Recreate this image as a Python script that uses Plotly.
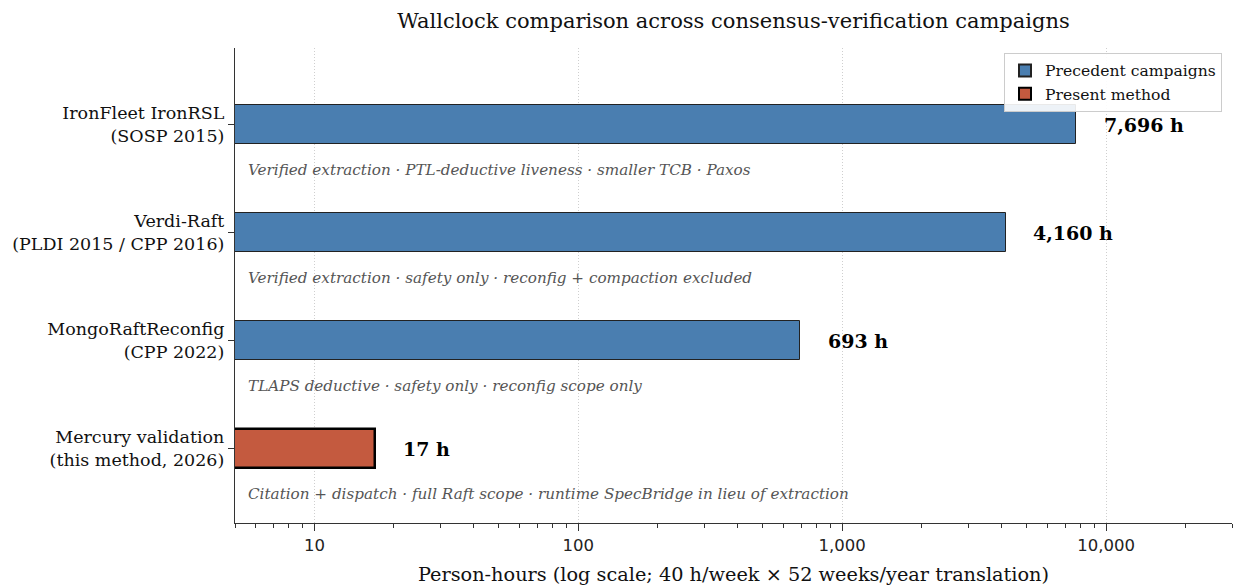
import plotly.graph_objects as go
import math

campaigns = ["IronFleet IronRSL<br>(SOSP 2015)",
             "Verdi-Raft<br>(PLDI 2015 / CPP 2016)",
             "MongoRaftReconfig<br>(CPP 2022)",
             "Mercury validation<br>(this method, 2026)"]
hours = [7696, 4160, 693, 17]
groups = ["Precedent campaigns", "Precedent campaigns", "Precedent campaigns", "Present method"]
notes = ["Verified extraction · PTL-deductive liveness · smaller TCB · Paxos",
         "Verified extraction · safety only · reconfig + compaction excluded",
         "TLAPS deductive · safety only · reconfig scope only",
         "Citation + dispatch · full Raft scope · runtime SpecBridge in lieu of extraction"]
x_ticks = [10, 100, 1000, 10000]
x_tick_labels = ["10", "100", "1,000", "10,000"]

BLUE = "#4a7eb0"
RED = "#c45a3f"
SERIF = "DejaVu Serif"

pos = list(range(len(campaigns)))
fig = go.Figure()

prec_idx = [i for i, g in enumerate(groups) if g == "Precedent campaigns"]
pres_idx = [i for i, g in enumerate(groups) if g == "Present method"]

fig.add_trace(go.Bar(
    x=[hours[i] for i in prec_idx], y=[pos[i] for i in prec_idx], orientation="h",
    width=0.36, name="Precedent campaigns",
    marker=dict(color=BLUE, line=dict(color="#222222", width=1)),
    hoverinfo="skip"))
fig.add_trace(go.Bar(
    x=[hours[i] for i in pres_idx], y=[pos[i] for i in pres_idx], orientation="h",
    width=0.36, name="Present method",
    marker=dict(color=RED, line=dict(color="#000000", width=2.5)),
    hoverinfo="skip"))

annotations = []
for i, (h, n) in enumerate(zip(hours, notes)):
    annotations.append(dict(
        x=math.log10(h * 1.25), y=pos[i], xref="x", yref="y",
        text=f"<b>{h:,} h</b>", showarrow=False, xanchor="left", yanchor="middle",
        font=dict(family=SERIF, size=19, color="#000000")))
    annotations.append(dict(
        x=math.log10(5.5), y=pos[i] + 0.42, xref="x", yref="y",
        text=f"<i>{n}</i>", showarrow=False, xanchor="left", yanchor="middle",
        font=dict(family=SERIF, size=15.2, color="#555555")))

minor_vals = []
for d in [1, 10, 100, 1000, 10000]:
    for m in range(2, 10):
        v = m * d
        if 5 <= v <= 30000:
            minor_vals.append(v)

fig.update_layout(
    width=1235, height=587,
    margin=dict(l=235, r=3, t=48, b=64),
    paper_bgcolor="white", plot_bgcolor="white",
    title=dict(text="Wallclock comparison across consensus-verification campaigns",
               x=(235 + 1232) / 2 / 1235, xanchor="center", y=1 - 21 / 587, yanchor="middle",
               font=dict(family=SERIF, size=21, color="#111111")),
    barmode="overlay",
    bargap=0,
    showlegend=True,
    legend=dict(x=0.990, y=0.99, xanchor="right", yanchor="top",
                bgcolor="rgba(255,255,255,0.9)", bordercolor="#cccccc", borderwidth=1,
                font=dict(family=SERIF, size=15.6, color="#111111"),
                itemsizing="constant", tracegroupgap=0),
    annotations=annotations,
    xaxis=dict(type="log", range=[math.log10(5), math.log10(30000)],
               tickvals=x_ticks, ticktext=x_tick_labels,
               tickfont=dict(family="DejaVu Sans", size=16.5, color="#222222"),
               ticks="outside", ticklen=7, tickwidth=1, tickcolor="#333333",
               showline=True, linecolor="#333333", linewidth=1.3,
               showgrid=True, gridcolor="#cfcfcf", griddash="1px,2px", gridwidth=1,
               zeroline=False,
               minor=dict(tickvals=minor_vals, ticks="outside", ticklen=4,
                          tickcolor="#333333", showgrid=False),
               title=dict(text="Person-hours (log scale; 40 h/week × 52 weeks/year translation)",
                          font=dict(family=SERIF, size=19.3, color="#111111"), standoff=13)),
    yaxis=dict(range=[3.69, -0.71], tickvals=pos, ticktext=campaigns,
               tickfont=dict(family=SERIF, size=17.5, color="#111111"),
               ticks="outside", ticklen=6, tickcolor="#333333",
               showline=True, linecolor="#333333", linewidth=1.3,
               showgrid=False, zeroline=False),
)

fig.write_html("out.html", config={"displayModeBar": False},
               post_script="document.body.style.margin='0';document.body.style.overflow='hidden';")
